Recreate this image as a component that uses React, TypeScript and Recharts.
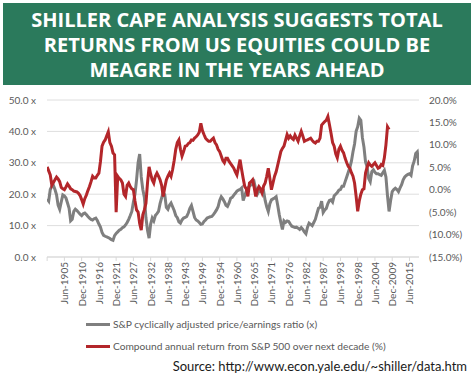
import React from 'react';
import { LineChart, Line, XAxis, YAxis, CartesianGrid } from 'recharts';

// half-yearly points, starting Dec-1899, then Jun / Dec of each year
const capeRatio = [
  18.5,
  17.8, 21.5, 22.5, 22.8, 21.5, 19.8, 16.5, 15.2, 17.5, 19.8, // 1900-1904
  19.5, 18.8, 17.2, 15.5, 11.5, 12.0, 14.5, 15.2, 14.8, 14.2, // 1905-1909
  13.6, 13.2, 13.8, 14.0, 13.5, 12.9, 12.4, 12.0, 11.8, 12.2, // 1910-1914
  12.4, 11.6, 10.5, 9.5, 7.8, 6.9, 6.6, 6.4, 6.2, 5.9, // 1915-1919
  5.5, 5.3, 6.8, 7.5, 8.0, 8.5, 8.8, 9.3, 9.6, 10.2, // 1920-1924
  11.0, 12.0, 13.2, 14.5, 17.5, 20.0, 24.5, 30.0, 32.8, 25.5, // 1925-1929
  21.5, 19.0, 12.5, 8.5, 6.0, 10.5, 12.4, 11.5, 13.2, 13.8, // 1930-1934
  14.5, 17.0, 18.8, 20.5, 19.8, 15.8, 15.2, 16.5, 17.2, 16.0, // 1935-1939
  14.8, 13.2, 12.5, 11.2, 10.8, 11.8, 12.4, 12.6, 12.9, 14.0, // 1940-1944
  15.5, 16.4, 14.5, 12.6, 11.8, 11.5, 11.0, 10.4, 10.5, 11.3, // 1945-1949
  11.8, 12.4, 12.6, 12.8, 12.9, 13.5, 14.2, 15.0, 16.0, 18.0, // 1950-1954
  19.2, 18.5, 17.6, 16.5, 16.1, 17.2, 18.7, 19.0, 19.7, 20.3, // 1955-1959
  21.0, 21.3, 21.5, 22.0, 18.0, 19.5, 21.0, 22.0, 22.6, 23.0, // 1960-1964
  23.0, 23.8, 21.5, 20.0, 21.0, 20.8, 20.6, 21.0, 18.0, 16.0, // 1965-1969
  14.5, 17.0, 18.2, 18.5, 18.8, 19.2, 16.5, 13.5, 11.0, 8.8, // 1970-1974
  11.5, 11.0, 11.5, 11.3, 10.5, 9.8, 9.6, 9.4, 9.5, 9.2, // 1975-1979
  8.8, 9.4, 8.8, 8.0, 7.4, 9.5, 10.8, 10.4, 10.0, 11.0, // 1980-1984
  12.0, 13.8, 15.5, 15.8, 17.8, 14.2, 15.0, 15.5, 17.0, 18.0, // 1985-1989
  18.2, 17.5, 19.5, 20.0, 20.5, 21.3, 21.5, 22.5, 22.5, 24.0, // 1990-1994
  25.5, 27.0, 28.5, 30.5, 33.5, 36.0, 40.0, 41.5, 44.2, 43.5, // 1995-1999
  38.0, 35.0, 30.3, 28.7, 25.0, 24.0, 27.2, 27.8, 27.0, 26.5, // 2000-2004
  26.5, 26.2, 26.0, 26.8, 27.6, 25.5, 19.5, 14.5, 18.0, 20.8, // 2005-2009
  21.5, 21.9, 21.5, 20.8, 22.0, 23.0, 24.6, 25.5, 26.0, 26.3, // 2010-2014
  26.5, 26.0, 29.0, 30.5, 33.0, 33.5, // 2015-2017
  29.2, // Jun-2018
];

// compound annual return over the following decade, %
const nextDecadeReturn = [
  5.1,
  4.2, 3.3, 1.0, 1.6, 2.2, 2.8, 2.4, 1.8, 0.5, 0.2, // 1900-1904
  0.0, 0.6, 1.3, 0.8, 0.2, 0.0, -0.3, -0.4, -0.5, -0.8, // 1905-1909
  -1.3, -2.2, -3.2, -2.0, -1.2, -0.2, 0.7, 1.8, 3.0, 2.6, // 1910-1914
  2.6, 3.2, 3.7, 6.3, 9.7, 10.6, 11.1, 12.0, 12.9, 10.5, // 1915-1919
  9.7, 8.2, 7.8, -5.0, 3.0, 2.5, 2.2, 1.5, -1.0, -1.5, // 1920-1924
  1.0, 1.5, 0.7, 0.2, 0.0, -2.5, -4.5, -5.0, -7.5, -9.0, // 1925-1929
  -5.6, -4.5, -3.0, 1.5, 5.1, 3.5, 2.2, 1.5, 3.0, 3.7, // 1930-1934
  3.0, 2.2, 1.0, -1.5, 0.5, 2.2, 3.0, 3.7, 3.0, 4.5, // 1935-1939
  6.5, 9.0, 10.5, 11.1, 9.0, 7.5, 8.5, 9.7, 9.8, 10.3, // 1940-1944
  10.5, 11.1, 11.0, 11.5, 11.8, 12.2, 12.8, 14.8, 13.2, 12.3, // 1945-1949
  11.5, 11.1, 10.8, 10.8, 11.2, 11.5, 10.5, 10.0, 9.0, 8.5, // 1950-1954
  7.5, 6.5, 6.0, 7.0, 7.0, 6.3, 5.8, 5.3, 4.8, 4.0, // 1955-1959
  3.3, 5.0, 6.7, 4.5, 2.5, 0.7, 0.2, -1.5, 1.5, 1.8, // 1960-1964
  2.2, 0.5, -1.5, 0.0, 0.7, 0.2, -0.7, 0.8, 1.5, 3.0, // 1965-1969
  4.8, 2.5, 0.0, 1.5, 3.0, 4.0, 5.5, 7.0, 8.5, 9.2, // 1970-1974
  9.7, 11.0, 12.3, 11.5, 12.0, 11.5, 11.2, 12.2, 11.5, 10.8, // 1975-1979
  12.0, 13.0, 12.0, 10.8, 11.0, 11.1, 11.3, 11.5, 11.0, 10.6, // 1980-1984
  10.4, 10.8, 10.8, 11.5, 14.4, 14.8, 15.2, 15.5, 16.3, 14.5, // 1985-1989
  12.6, 10.5, 9.7, 8.0, 7.1, 9.0, 9.7, 8.8, 8.2, 7.0, // 1990-1994
  6.0, 5.2, 4.8, 3.8, 3.0, 1.5, -1.5, -4.8, -2.5, -1.0, // 1995-1999
  0.0, 0.2, 3.7, 5.0, 6.0, 5.5, 5.2, 5.6, 6.0, 5.4, // 2000-2004
  4.8, 5.0, 5.6, 5.4, 7.1, 10.0, 14.0, 13.4, // 2005-2008
];

const tickLabels = [
  'Jun-1905', 'Dec-1910', 'Jun-1916', 'Dec-1921', 'Jun-1927', 'Dec-1932', 'Jun-1938',
  'Dec-1943', 'Jun-1949', 'Dec-1954', 'Jun-1960', 'Dec-1965', 'Jun-1971', 'Dec-1976',
  'Jun-1982', 'Dec-1987', 'Jun-1993', 'Dec-1998', 'Jun-2004', 'Dec-2009', 'Jun-2015',
];

const capeTicks = [0, 5, 10, 15, 20, 25, 30, 35, 40, 45, 50];
const returnTicks = [-15, -10, -5, 0, 5, 10, 15, 20];

const START = 1899 + 11 / 12; // Dec-1899
const toYear = (label: string) => {
  const [m, y] = label.split('-');
  return Number(y) + (m === 'Jun' ? 5 : 11) / 12;
};
const labelByYear = new Map(tickLabels.map((l) => [toYear(l).toFixed(3), l]));

const data = capeRatio.map((v, i) => ({
  t: START + i * 0.5,
  cape: v,
  ret: i < nextDecadeReturn.length ? nextDecadeReturn[i] : null,
}));

const FONT = 'Lato, "Open Sans", sans-serif';
const GREY = '#7f7f7f';
const RED = '#b3262a';

const XTick = (props: any) => {
  const { x, y, payload } = props;
  const label = labelByYear.get(Number(payload.value).toFixed(3)) ?? '';
  return (
    <text
      x={x}
      y={y}
      transform={`rotate(-90, ${x}, ${y})`}
      textAnchor="end"
      dominantBaseline="central"
      fontSize={10}
      fontFamily={FONT}
      fill="#595959"
    >
      {label}
    </text>
  );
};

const fmtPct = (v: number) => (v < 0 ? `(${Math.abs(v).toFixed(1)}%)` : `${v.toFixed(1)}%`);

export default function App() {
  return (
    <div style={{ position: 'relative', width: 475, height: 374, background: '#fff', fontFamily: FONT }}>
      <style>{'body{margin:0}'}</style>
      <div
        style={{
          position: 'absolute',
          left: 3,
          top: 3,
          width: 468,
          height: 82,
          background: '#2b7a5c',
          color: '#fff',
          fontFamily: '"Open Sans", sans-serif',
          fontWeight: 700,
          fontSize: 20,
          lineHeight: '25px',
          textAlign: 'center',
          display: 'flex',
          alignItems: 'center',
          justifyContent: 'center',
        }}
      >
        <div>
          SHILLER CAPE ANALYSIS SUGGESTS TOTAL
          <br />
          RETURNS FROM US EQUITIES COULD BE
          <br />
          MEAGRE IN THE YEARS AHEAD
        </div>
      </div>

      <div style={{ position: 'absolute', left: 0, top: 90 }}>
        <LineChart width={475} height={225} data={data} margin={{ top: 10, right: 0, bottom: 0, left: 0 }}>
          <CartesianGrid vertical={false} stroke="#dedede" yAxisId="left" />
          <XAxis
            dataKey="t"
            type="number"
            domain={[START - 0.5 / 12, START + 1422.5 / 12]}
            ticks={[START, ...tickLabels.map(toYear)]}
            tick={<XTick />}
            interval={0}
            height={58}
            tickSize={4}
            tickMargin={1}
            stroke="#d9d9d9"
            allowDataOverflow
          />
          <YAxis
            yAxisId="left"
            domain={[0, 50]}
            ticks={capeTicks}
            tickFormatter={(v: number) => `${v.toFixed(1)} x`}
            width={47}
            axisLine={false}
            tickLine={false}
            tickSize={0}
            tickMargin={11}
            tick={{ fontSize: 10, fill: '#595959', fontFamily: FONT }}
          />
          <YAxis
            yAxisId="right"
            orientation="right"
            domain={[-15, 20]}
            ticks={returnTicks}
            tickFormatter={fmtPct}
            width={56}
            axisLine={false}
            tickLine={false}
            tickSize={0}
            tickMargin={10}
            tick={{ fontSize: 10, fill: '#595959', fontFamily: FONT, textAnchor: 'start' }}
          />
          <Line
            yAxisId="left"
            dataKey="cape"
            stroke={GREY}
            strokeWidth={3}
            dot={false}
            type="linear"
            isAnimationActive={false}
          />
          <Line
            yAxisId="right"
            dataKey="ret"
            stroke={RED}
            strokeWidth={3}
            dot={false}
            type="linear"
            connectNulls={false}
            isAnimationActive={false}
          />
        </LineChart>
      </div>

      {[
        { color: GREY, text: 'S&P cyclically adjusted price/earnings ratio (x)', top: 318 },
        { color: RED, text: 'Compound annual return from S&P 500 over next decade (%)', top: 340 },
      ].map((item) => (
        <div
          key={item.text}
          style={{ position: 'absolute', left: 86, top: item.top, display: 'flex', alignItems: 'center', height: 12 }}
        >
          <span style={{ display: 'inline-block', width: 24, height: 3, background: item.color, marginRight: 3 }} />
          <span style={{ fontSize: 10.2, color: '#595959', whiteSpace: 'nowrap' }}>{item.text}</span>
        </div>
      ))}

      <div
        style={{
          position: 'absolute',
          right: 8,
          top: 358,
          fontSize: 13,
          color: '#1a1a1a',
          whiteSpace: 'nowrap',
        }}
      >
        Source: http://www.econ.yale.edu/~shiller/data.htm
      </div>
    </div>
  );
}
